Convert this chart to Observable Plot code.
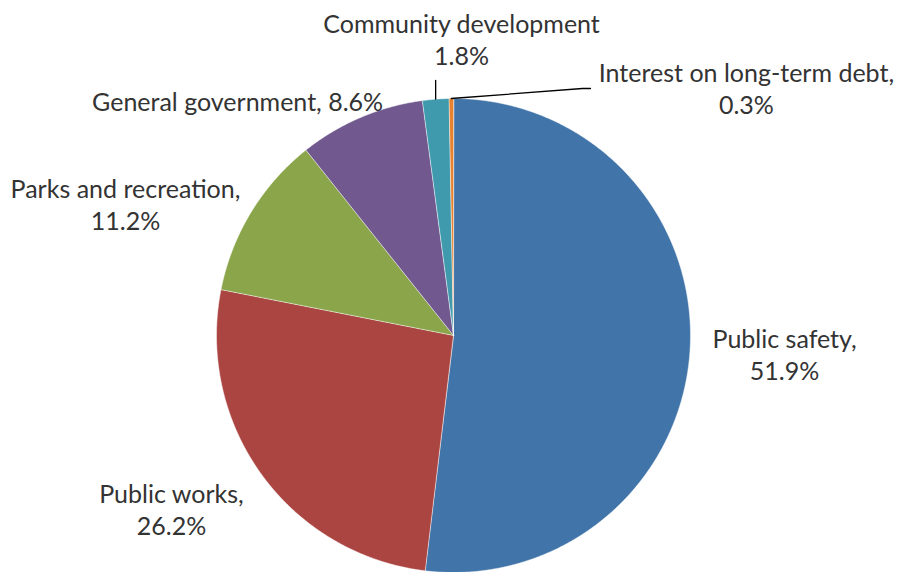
<!DOCTYPE html>
<html>
<head>
<meta charset="utf-8">
<script src="https://cdn.jsdelivr.net/npm/d3@7"></script>
<script src="https://cdn.jsdelivr.net/npm/@observablehq/plot@0.6"></script>
<style>
  html, body { margin: 0; padding: 0; background: #fff; }
  #chart svg { display: block; }
</style>
</head>
<body>
<div id="chart"></div>
<script>
// ---- data ----
const categories = ["Public safety", "Public works", "Parks and recreation", "General government", "Community development", "Interest on long-term debt"];
const shares = [51.9, 26.2, 11.2, 8.6, 1.8, 0.3];

// ---- style / layout ----
const colors = ["#4174a8", "#ab4542", "#8aa54a", "#71598f", "#3f9aae", "#e8822e"];
const labelSeparators = [",\n", ",\n", ",\n", ", ", "\n", ",\n"];
// label centres, in pie-radius units relative to the pie centre
const labelX = [1.397, -1.190, -1.384, -0.911, 0.034, 1.236];
const labelY = [-0.076, -0.730, 0.557, 0.992, 1.253, 1.046];

const W = 899, H = 572, cx = 453, cy = 335, R = 237;

const arcs = d3.pie().sort(null).startAngle(0).endAngle(2 * Math.PI)(shares);

// polygon points for each slice (unit radius)
const pts = [];
arcs.forEach((a, i) => {
  const name = categories[i];
  pts.push({name, x: 0, y: 0});
  const n = Math.max(2, Math.ceil((a.endAngle - a.startAngle) / 0.005));
  for (let k = 0; k <= n; k++) {
    const t = a.startAngle + (a.endAngle - a.startAngle) * k / n;
    pts.push({name, x: Math.sin(t), y: Math.cos(t)});
  }
});

const labels = categories.map((c, i) => ({
  text: c + labelSeparators[i] + shares[i].toFixed(1) + "%",
  x: labelX[i], y: labelY[i]
}));

// leader lines for the two thin slices
const mid = i => (arcs[i].startAngle + arcs[i].endAngle) / 2;
const leaders = [
  {id: "cd", x: Math.sin(mid(4)), y: Math.cos(mid(4))},
  {id: "cd", x: Math.sin(mid(4)), y: (cy - 80) / R},
  {id: "int", x: Math.sin(mid(5)), y: Math.cos(mid(5))},
  {id: "int", x: (582 - cx) / R, y: (cy - 88) / R},
  {id: "int", x: (590 - cx) / R, y: (cy - 88) / R}
];

const chart = Plot.plot({
  width: W,
  height: H,
  margin: 0,
  style: {fontFamily: "Lato, sans-serif", background: "#fff"},
  x: {domain: [-cx / R, (W - cx) / R], axis: null},
  y: {domain: [-(H - cy) / R, cy / R], axis: null},
  color: {domain: categories, range: colors},
  marks: [
    Plot.line(pts, {x: "x", y: "y", z: "name", fill: "name", stroke: "#fff", strokeWidth: 0.5, curve: "linear-closed"}),
    Plot.line(leaders, {x: "x", y: "y", z: "id", stroke: "#000", strokeWidth: 1.3}),
    Plot.text(labels, {x: "x", y: "y", text: "text", fontSize: 25, lineHeight: 1.3, fill: "#333", textAnchor: "middle", lineAnchor: "middle"})
  ]
});
document.getElementById("chart").appendChild(chart);
</script>
</body>
</html>
